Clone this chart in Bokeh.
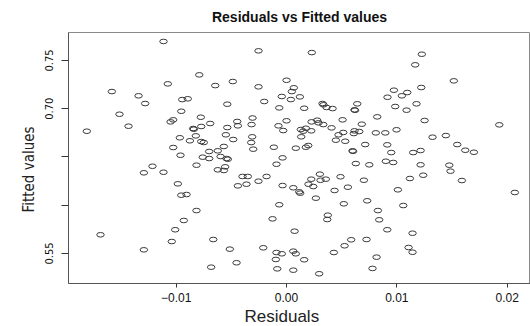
from bokeh.plotting import figure
from bokeh.models import FixedTicker, Range1d, Title
from bokeh.embed import file_html
from bokeh.resources import INLINE

residuals = [
    -0.01115, -0.01583, -0.01341, -0.01281, -0.01514, -0.01432, -0.01810, -0.01215, -0.01293, -0.01115,
    -0.01686, -0.01293,
    -0.00791, -0.01076, -0.00646, -0.00487, -0.00945, -0.00895, -0.00537, -0.00954, -0.00777, -0.01051,
    -0.01027, -0.00447, -0.00308, -0.00846, -0.00840, -0.00773, -0.00692, -0.00537, -0.00441, -0.00317,
    -0.00967, -0.00822, -0.00876, -0.00773, -0.00750, -0.00550, -0.00483, -0.00311, -0.00320, -0.01027,
    -0.00701, -0.00623, -0.00568, -0.00302, -0.00961, -0.00759, -0.00701, -0.00598, -0.00544, -0.00532,
    -0.00816, -0.00623, -0.00568, -0.00556, -0.00399, -0.00351, -0.00441, -0.00363, -0.00985, -0.00954,
    -0.00906, -0.00816, -0.00931, -0.01009, -0.01040, -0.00664, -0.00514, -0.00453, -0.00683,
    -0.00254, 0.00229, 0.00000, -0.00254, 0.00066, 0.00048, -0.00043, 0.00121, 0.00039, -0.00202,
    0.00326, 0.00335, 0.00363, 0.00417, -0.00066, 0.00160, 0.00000, -0.00073, -0.00030, 0.00227,
    0.00278, 0.00290, 0.00333, 0.00508, 0.00130, 0.00151, 0.00175, 0.00224, 0.00408, 0.00471,
    0.00514, 0.00447, 0.00532, 0.00133, -0.00115, 0.00084, 0.00175, 0.00197, -0.00036, -0.00091,
    -0.00181, -0.00254, -0.00036, 0.00061, 0.00115, 0.00124, 0.00199, 0.00242, 0.00224, 0.00308,
    0.00356, 0.00302, 0.00489, 0.00435, 0.00519, 0.00266, -0.00066, -0.00127, 0.00374, 0.00369,
    0.00073, 0.00526, -0.00211, -0.00091, -0.00043, -0.00097, 0.00061, 0.00084, 0.00160, 0.00429,
    -0.00084, 0.00061, 0.00296,
    0.01226, 0.01166, 0.00973, 0.00915, 0.01045, 0.01094, 0.01221, 0.00985, 0.01088, 0.01178,
    0.00641, 0.00616, 0.00621, 0.00822, 0.01251, 0.00682, 0.00616, 0.00610, 0.00659, 0.00809,
    0.00895, 0.00997, 0.01323, 0.00713, 0.00913, 0.00598, 0.00603, 0.00949, 0.01148, 0.01215,
    0.00628, 0.00750, 0.00900, 0.00967, 0.01215, 0.01118, 0.01239, 0.00701, 0.00556, 0.01009,
    0.00731, 0.01058, 0.00828, 0.00840, 0.00913, 0.01142, 0.00586, 0.00725, 0.01106, 0.01142,
    0.00816, 0.00779,
    0.01516, 0.01928, 0.01444, 0.01547, 0.01620, 0.01698, 0.01475, 0.01486, 0.01589, 0.02069,
]

fitted = [
    0.7697, 0.7178, 0.7134, 0.7054, 0.6943, 0.6819, 0.6767, 0.6404, 0.6336, 0.6342,
    0.5694, 0.5538,
    0.7351, 0.7258, 0.7240, 0.7282, 0.7095, 0.7103, 0.7047, 0.6974, 0.6912, 0.6864,
    0.6885, 0.6868, 0.6904, 0.6795, 0.6788, 0.6816, 0.6847, 0.6805, 0.6823, 0.6836,
    0.6699, 0.6719, 0.6668, 0.6660, 0.6650, 0.6730, 0.6681, 0.6709, 0.6650, 0.6598,
    0.6557, 0.6564, 0.6609, 0.6581, 0.6518, 0.6498, 0.6484, 0.6505, 0.6484, 0.6477,
    0.6415, 0.6367, 0.6360, 0.6398, 0.6298, 0.6298, 0.6201, 0.6218, 0.6222, 0.6104,
    0.6111, 0.5945, 0.5842, 0.5746, 0.5624, 0.5645, 0.5545, 0.5404, 0.5358,
    0.7600, 0.7582, 0.7295, 0.7227, 0.7217, 0.7178, 0.7127, 0.7123, 0.7095, 0.7075,
    0.7054, 0.7041, 0.7013, 0.7002, 0.7009, 0.7005, 0.6875, 0.6823, 0.6774, 0.6864,
    0.6881, 0.6854, 0.6836, 0.6885, 0.6785, 0.6767, 0.6798, 0.6771, 0.6802, 0.6730,
    0.6754, 0.6674, 0.6663, 0.6709, 0.6601, 0.6591, 0.6601, 0.6619, 0.6491, 0.6425,
    0.6298, 0.6249, 0.6204, 0.6181, 0.6139, 0.6125, 0.6218, 0.6194, 0.6270, 0.6259,
    0.6270, 0.6322, 0.6295, 0.6153, 0.6015, 0.6073, 0.6005, 0.5859, 0.5897, 0.5852,
    0.5731, 0.5580, 0.5559, 0.5510, 0.5497, 0.5438, 0.5524, 0.5497, 0.5435, 0.5510,
    0.5341, 0.5327, 0.5290,
    0.7565, 0.7455, 0.7192, 0.7119, 0.7134, 0.7168, 0.7220, 0.7023, 0.6985, 0.7051,
    0.7051, 0.6989, 0.6984, 0.6916, 0.6878, 0.6840, 0.6771, 0.6743, 0.6764, 0.6750,
    0.6750, 0.6782, 0.6705, 0.6629, 0.6626, 0.6564, 0.6559, 0.6546, 0.6546, 0.6567,
    0.6432, 0.6419, 0.6456, 0.6443, 0.6419, 0.6277, 0.6311, 0.6259, 0.6187, 0.6160,
    0.6046, 0.5997, 0.5945, 0.5849, 0.5746, 0.5710, 0.5642, 0.5645, 0.5562, 0.5513,
    0.5462, 0.5345,
    0.7289, 0.6833, 0.6722, 0.6629, 0.6570, 0.6549, 0.6415, 0.6353, 0.6256, 0.6132,
]

x_ticks = [-0.01, 0.0, 0.01, 0.02]
x_tick_labels = ["\u22120.01", "0.00", "0.01", "0.02"]
y_ticks = [0.55, 0.60, 0.65, 0.70, 0.75]
y_tick_labels = ["0.55", "", "", "0.70", "0.75"]

NARROW = "DejaVu Sans Condensed, Roboto Condensed, Liberation Sans Narrow, sans-serif"
SANS = "Liberation Sans, Arial, sans-serif"

p = figure(width=530, height=326, output_backend="svg", toolbar_location=None,
           x_range=Range1d(-0.01976, 0.02211), y_range=Range1d(0.5189, 0.7790),
           min_border_left=68, min_border_right=0, min_border_top=32, min_border_bottom=43,
           title="Residuals vs Fitted values")

p.title.align = "center"
p.title.text_font = SANS
p.title.text_font_size = "14px"
p.title.text_font_style = "bold"
p.title.text_color = "#111111"
p.title.standoff = 0
p.title.padding = 0

spacer = Title(text=" ", text_font_size="6px", standoff=0)
p.above.insert(0, spacer)

p.background_fill_color = "white"
p.border_fill_color = "white"
p.outline_line_color = "#8a8a8a"
p.outline_line_width = 1
p.xgrid.visible = False
p.ygrid.visible = False

p.ellipse(x=residuals, y=fitted, width=7.5, height=4.6,
          width_units="screen", height_units="screen",
          fill_color=None, line_color="#3a3a3a", line_width=1)

xa = p.xaxis[0]
xa.ticker = FixedTicker(ticks=x_ticks)
xa.major_label_overrides = {t: l for t, l in zip(x_ticks, x_tick_labels)}
xa.axis_line_color = "#555555"
xa.major_tick_line_color = "#333333"
xa.major_tick_out = 4
xa.major_tick_in = 0
xa.minor_tick_line_color = None
xa.major_label_text_font = SANS
xa.major_label_text_font_size = "12px"
xa.major_label_text_color = "#111111"
xa.major_label_standoff = 5

ya = p.yaxis[0]
ya.ticker = FixedTicker(ticks=y_ticks)
ya.major_label_overrides = {t: l for t, l in zip(y_ticks, y_tick_labels)}
ya.axis_line_color = "#555555"
ya.major_tick_line_color = "#333333"
ya.major_tick_out = 7
ya.major_tick_in = 0
ya.minor_tick_line_color = None
ya.major_label_orientation = "vertical"
ya.major_label_text_font = NARROW
ya.major_label_text_font_size = "11px"
ya.major_label_text_color = "#111111"
ya.major_label_standoff = 8

x_title = Title(text="Residuals", align="left", offset=176, standoff=0,
                text_font=SANS, text_font_size="17px", text_font_style="normal",
                text_color="#222222")
p.add_layout(x_title, "below")

y_title = Title(text="Fitted values", align="left", offset=71, standoff=10,
                text_font=NARROW, text_font_size="15px", text_font_style="normal",
                text_color="#222222")
p.add_layout(y_title, "left")

open("out.html", "w").write(file_html(p, INLINE))
